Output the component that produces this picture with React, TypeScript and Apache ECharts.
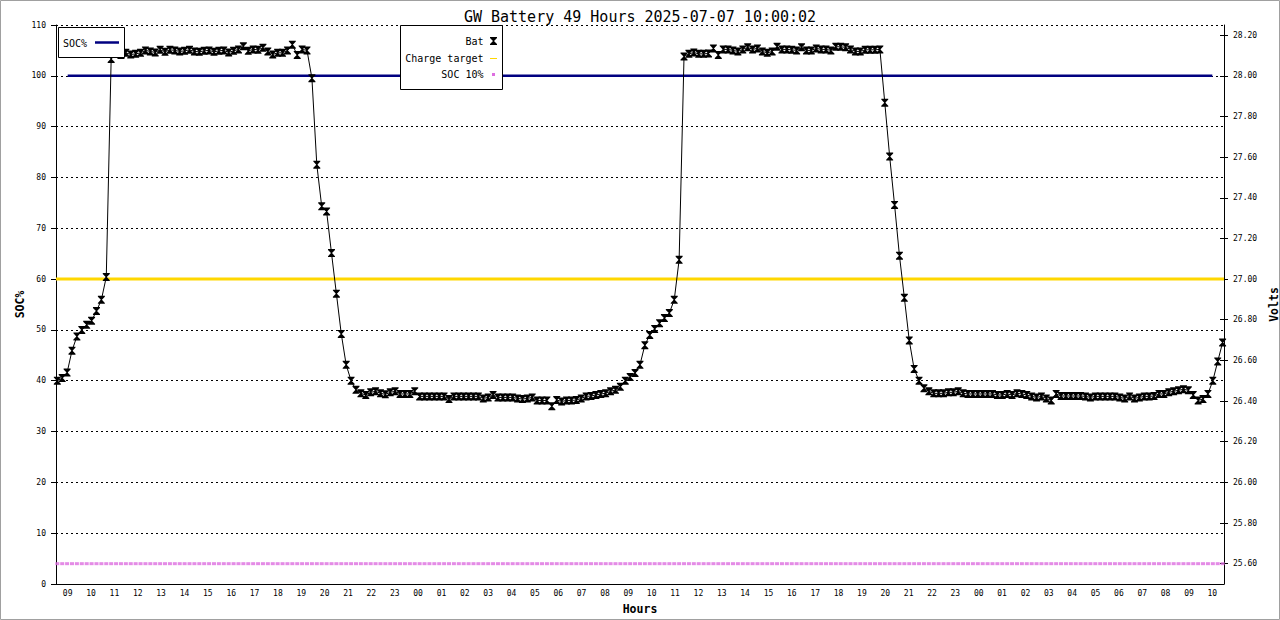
import React, { useEffect, useRef } from "react";
import * as echarts from "echarts";

const TITLE = "GW Battery 49 Hours 2025-07-07 10:00:02";
const MONO = '"DejaVu Sans Mono", "Liberation Mono", monospace';

// x axis: one label per hour bucket
const hourLabels = [
  "09", "10", "11", "12", "13", "14", "15", "16", "17", "18", "19", "20", "21", "22", "23",
  "00", "01", "02", "03", "04", "05", "06", "07", "08", "09", "10", "11", "12", "13", "14", "15", "16", "17", "18", "19", "20", "21", "22", "23",
  "00", "01", "02", "03", "04", "05", "06", "07", "08", "09", "10",
];

const socTicks = [0, 10, 20, 30, 40, 50, 60, 70, 80, 90, 100, 110];
const voltTicks = ["25.60", "25.80", "26.00", "26.20", "26.40", "26.60", "26.80", "27.00", "27.20", "27.40", "27.60", "27.80", "28.00", "28.20"];

// Battery voltage samples (V)
const batVolts = [
  // rise
  26.500, 26.513, 26.540, 26.648, 26.718, 26.750, 26.775, 26.795, 26.843, 26.898, 27.010, 28.083,
  // plateau
  28.108, 28.103, 28.113, 28.105, 28.108, 28.113, 28.125, 28.120, 28.115, 28.128,
  28.118, 28.128, 28.125, 28.120, 28.123, 28.128, 28.120, 28.118, 28.123, 28.125,
  28.118, 28.123, 28.125, 28.115, 28.123, 28.130, 28.145, 28.123, 28.130, 28.128,
  28.138, 28.120, 28.105, 28.113, 28.113, 28.125, 28.153, 28.103, 28.130, 28.125,
  // fall
  27.988, 27.563, 27.358, 27.333, 27.128, 26.928, 26.730, 26.578, 26.500,
  // low
  26.455, 26.438, 26.430, 26.443, 26.448, 26.438, 26.433, 26.443, 26.448, 26.435,
  26.435, 26.435, 26.448, 26.423, 26.423, 26.423, 26.423, 26.423, 26.423, 26.410,
  26.423, 26.423, 26.423, 26.423, 26.423, 26.423, 26.413, 26.418, 26.430, 26.418,
  26.418, 26.418, 26.418, 26.413, 26.410, 26.413, 26.418, 26.403, 26.403, 26.403,
  26.375, 26.405, 26.398, 26.403, 26.403, 26.405, 26.413, 26.423, 26.425, 26.430,
  26.435, 26.438, 26.448, 26.455, 26.470,
  // rise
  26.500, 26.518, 26.538, 26.578, 26.675, 26.725, 26.755, 26.783, 26.808, 26.833, 26.898, 27.095, 28.095,
  // plateau
  28.108, 28.115, 28.108, 28.108, 28.110, 28.135, 28.103, 28.130, 28.130, 28.125,
  28.120, 28.130, 28.140, 28.130, 28.135, 28.120, 28.113, 28.120, 28.143, 28.130,
  28.130, 28.128, 28.125, 28.140, 28.125, 28.125, 28.135, 28.130, 28.130, 28.125,
  28.143, 28.143, 28.140, 28.130, 28.120, 28.120, 28.128, 28.128, 28.128, 28.130,
  // fall
  27.868, 27.603, 27.365, 27.115, 26.908, 26.698, 26.558, 26.500, 26.463,
  // low
  26.448, 26.438, 26.438, 26.438, 26.443, 26.443, 26.448, 26.438, 26.435, 26.435,
  26.435, 26.435, 26.435, 26.435, 26.430, 26.430, 26.435, 26.430, 26.438, 26.435,
  26.430, 26.423, 26.418, 26.423, 26.413, 26.403, 26.435, 26.425, 26.425, 26.425,
  26.425, 26.425, 26.423, 26.418, 26.423, 26.423, 26.423, 26.423, 26.423, 26.418,
  26.413, 26.423, 26.413, 26.418, 26.423, 26.423, 26.425, 26.435, 26.435, 26.443,
  26.448, 26.453, 26.458, 26.453, 26.430, 26.403, 26.410, 26.435,
  // rise
  26.500, 26.595, 26.688,
];

// sampling: first sample time and spacing, in hours from the left edge
const SAMPLE_START_H = 0.056;
const SAMPLE_STEP_H = 0.2096;

const SOC_PCT = 100; // SOC% reading, hourly
const CHARGE_TARGET_V = 27.0;
const SOC10_V = 25.6;

const HOURGLASS = "path://M0,0L8,0L8,1L4.6,4.5L8,8L8,9L0,9L0,8L3.4,4.5L0,1Z";

const NAVY = "#000080";
const GOLD = "#ffd700";
const PINK = "#dd6ee0";

export default function App() {
  const ref = useRef<HTMLDivElement>(null);

  useEffect(() => {
    if (!ref.current) return;
    const chart = echarts.init(ref.current, null, { renderer: "svg" });

    const sampleTimes = batVolts.map((_, i) => SAMPLE_START_H + i * SAMPLE_STEP_H);
    const hourCenters = hourLabels.map((_, i) => i + 0.5);
    const voltVals = voltTicks.map((v) => parseFloat(v));

    const tickFont = { fontFamily: MONO, fontSize: 8, color: "#000" };
    const nameFont = { fontFamily: MONO, fontSize: 11.5, fontWeight: "bold" as const, color: "#000" };

    const option: any = {
      animation: false,
      backgroundColor: "#fff",
      title: {
        text: TITLE,
        left: "center",
        top: 4,
        textStyle: { fontFamily: MONO, fontSize: 15, fontWeight: "normal", color: "#000" },
      },
      grid: { left: 56, right: 56, top: 25, bottom: 36, containLabel: false, outerBoundsMode: "none" },
      xAxis: {
        type: "value",
        min: 0,
        max: hourLabels.length,
        name: "Hours",
        nameLocation: "middle",
        nameGap: 19,
        nameMoveOverlap: false,
        nameTextStyle: nameFont,
        axisLine: { show: true, onZero: false, lineStyle: { color: "#000", width: 1 } },
        axisTick: { show: false },
        splitLine: { show: false },
        axisLabel: {
          ...tickFont,
          margin: 5,
          customValues: hourCenters,
          formatter: (v: number) => hourLabels[Math.round(v - 0.5)] ?? "",
        },
      },
      yAxis: [
        {
          type: "value",
          position: "left",
          min: socTicks[0],
          max: socTicks[socTicks.length - 1],
          interval: 10,
          name: "SOC%",
          nameLocation: "middle",
          nameGap: 30,
          nameMoveOverlap: false,
          nameRotate: 90,
          nameTextStyle: nameFont,
          axisLine: { show: true, lineStyle: { color: "#000", width: 1 } },
          axisTick: { show: true, length: 5, lineStyle: { color: "#000" } },
          axisLabel: { ...tickFont, margin: 10 },
          splitLine: { show: true, lineStyle: { color: "#000", width: 1, type: [2, 3] } },
        },
        {
          type: "value",
          position: "right",
          min: 25.5,
          max: 28.25,
          name: "Volts",
          nameLocation: "middle",
          nameGap: 41,
          nameRotate: 90,
          nameTextStyle: nameFont,
          axisLine: { show: true, lineStyle: { color: "#000", width: 1 } },
          axisTick: { show: true, length: 4, customValues: voltVals, lineStyle: { color: "#000" } },
          axisLabel: { ...tickFont, margin: 9, customValues: voltVals, formatter: (v: number) => v.toFixed(2) },
          splitLine: { show: false },
        },
        {
          type: "value",
          position: "right",
          min: 25.5,
          max: 28.25,
          axisLine: { show: false },
          axisTick: { show: true, inside: true, length: 4, customValues: voltVals, lineStyle: { color: "#000" } },
          axisLabel: { show: false },
          splitLine: { show: false },
        },
      ],
      series: [
        {
          name: "Charge target",
          type: "line",
          yAxisIndex: 1,
          data: [[0, CHARGE_TARGET_V], [hourLabels.length, CHARGE_TARGET_V]],
          symbol: "none",
          lineStyle: { color: GOLD, width: 3 },
          silent: true,
          z: 2,
        },
        {
          name: "SOC 10%",
          type: "scatter",
          yAxisIndex: 1,
          data: sampleTimes.map((t) => [t, SOC10_V]),
          symbol: "rect",
          symbolSize: [4, 3],
          itemStyle: { color: PINK },
          silent: true,
          z: 2,
        },
        {
          name: "SOC%",
          type: "line",
          yAxisIndex: 0,
          data: hourCenters.map((h) => [h, SOC_PCT]),
          symbol: "none",
          lineStyle: { color: NAVY, width: 2.5 },
          silent: true,
          z: 3,
        },
        {
          name: "Bat",
          type: "line",
          yAxisIndex: 1,
          data: sampleTimes.map((t, i) => [t, batVolts[i]]),
          symbol: HOURGLASS,
          symbolSize: [7, 8],
          showAllSymbol: true,
          itemStyle: { color: "#000" },
          lineStyle: { color: "#000", width: 1 },
          silent: true,
          z: 5,
        },
      ],
      graphic: [
        {
          type: "rect",
          silent: true,
          z: 100,
          shape: { x: 0.5, y: 0.5, width: 1279, height: 619 },
          style: { fill: "none", stroke: "#a0a0a0", lineWidth: 1 },
        },
        // left key
        {
          type: "rect",
          z: 100,
          shape: { x: 58.5, y: 27.5, width: 66, height: 30 },
          style: { fill: "#fff", stroke: "#000", lineWidth: 1 },
        },
        {
          type: "text",
          z: 101,
          x: 63,
          y: 43,
          style: { text: "SOC%", font: `10px ${MONO}`, fill: "#000", align: "left", verticalAlign: "middle", textAlign: "left", textVerticalAlign: "middle" },
        },
        {
          type: "line",
          z: 101,
          shape: { x1: 95, y1: 42.5, x2: 119, y2: 42.5 },
          style: { stroke: NAVY, lineWidth: 2.5 },
        },
        // middle key
        {
          type: "rect",
          z: 100,
          shape: { x: 400.5, y: 25.5, width: 102, height: 64 },
          style: { fill: "#fff", stroke: "#000", lineWidth: 1 },
        },
        {
          type: "text",
          z: 101,
          x: 483.5,
          y: 41.5,
          style: { text: "Bat", font: `10px ${MONO}`, fill: "#000", align: "right", verticalAlign: "middle", textAlign: "right", textVerticalAlign: "middle" },
        },
        {
          type: "text",
          z: 101,
          x: 483.5,
          y: 58.5,
          style: { text: "Charge target", font: `10px ${MONO}`, fill: "#000", align: "right", verticalAlign: "middle", textAlign: "right", textVerticalAlign: "middle" },
        },
        {
          type: "text",
          z: 101,
          x: 483.5,
          y: 74.5,
          style: { text: "SOC 10%", font: `10px ${MONO}`, fill: "#000", align: "right", verticalAlign: "middle", textAlign: "right", textVerticalAlign: "middle" },
        },
        {
          type: "polygon",
          z: 101,
          shape: {
            points: [[490, 37], [497, 37], [497, 38], [494, 41], [497, 44], [497, 45], [490, 45], [490, 44], [493, 41], [490, 38]],
          },
          style: { fill: "#000" },
        },
        {
          type: "line",
          z: 101,
          shape: { x1: 490, y1: 58.5, x2: 497, y2: 58.5 },
          style: { stroke: GOLD, lineWidth: 1 },
        },
        {
          type: "rect",
          z: 101,
          shape: { x: 492, y: 73, width: 3, height: 3 },
          style: { fill: PINK },
        },
      ],
    };

    chart.setOption(option);
    return () => chart.dispose();
  }, []);

  return (
    <div
      ref={ref}
      style={{ position: "absolute", left: 0, top: 0, width: 1280, height: 620, background: "#fff" }}
    />
  );
}
